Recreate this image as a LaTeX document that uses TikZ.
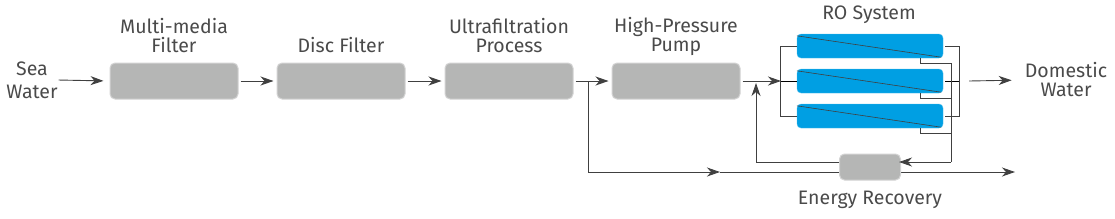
\documentclass[tikz,border=0pt]{standalone}
\usepackage{fontspec}
\setmainfont{Fira Sans}
\usepackage{xcolor}
\usetikzlibrary{arrows.meta, positioning}
\definecolor{boxgray}{HTML}{B5B6B5}
\definecolor{roblue}{HTML}{009FE3}
\definecolor{linegray}{HTML}{404040}
\definecolor{txtgray}{HTML}{4A4A4A}

\begin{document}
\begin{tikzpicture}[x=1pt, y=-1pt, >={Stealth[length=13pt, width=9pt, inset=4pt]},
    proc/.style={draw=boxgray!60!white, fill=boxgray, rounded corners=5pt, minimum width=128pt, minimum height=36pt, inner sep=0pt, line width=1pt},
    romod/.style={draw=roblue!70!white, fill=roblue, rounded corners=4pt, minimum width=146pt, minimum height=24pt, inner sep=0pt},
    flow/.style={draw=linegray, line width=0.9pt},
    lbl/.style={text=txtgray, font=\fontsize{19.5}{19}\selectfont, align=center, inner sep=0pt}]
    \useasboundingbox (0,0) rectangle (1115,218);

    % 1. Process boxes along the main line
    \node[proc] (mmf) at (174,81) {};
    \node[proc] (disc) at (341,81) {};
    \node[proc] (uf) at (509,81) {};
    \node[proc] (hpp) at (676,81) {};

    % RO modules
    \foreach \i/\y in {1/46, 2/81, 3/116} {
        \node[romod] (ro\i) at (870,\y) {};
        \draw[linegray, line width=0.6pt] ([yshift=-2pt]ro\i.north west) -- ([xshift=-2pt, yshift=1pt]ro\i.south east);
    }

    % Texts
    \node[lbl, font=\fontsize{19.5}{23}\selectfont] (sea) at (32,80) {Sea\\Water};
    \node[lbl] (lmmf) at (174,36) {Multi-media\\Filter};
    \node[lbl] (ldisc) at (341,45) {Disc Filter};
    \node[lbl] (luf) at (509,36) {Ultrafiltration\\Process};
    \node[lbl] (lhpp) at (676,36) {High-Pressure\\Pump};
    \node[lbl] (lro) at (869,15) {RO System};
    \node[lbl] (dom) at (1066,80) {Domestic\\Water};
    \node[lbl] (lerd) at (870,200) {Energy Recovery};

    % Junction points
    \coordinate (split) at (588,81);
    \coordinate (inL) at (781,81);
    \coordinate (outR) at (969,81);
    \coordinate (brine) at (951,162);
    \coordinate (retUp) at (756,81);
    \coordinate (midArr) at (720,172);
    \coordinate (drain) at (1015,172);

    % Bypass line, behind the energy recovery box
    \draw[flow, ->] (split) |- (midArr);
    \draw[flow, ->] (midArr) -- (drain);
    \node[proc, minimum width=61pt, minimum height=26pt] (erd) at (870,167) {};

    % 2. Main flow
    \draw[flow, ->, shorten <=1pt, shorten >=6pt] (sea.east) -- (mmf.west);
    \draw[flow, ->, shorten <=2pt, shorten >=3pt] (mmf) -- (disc);
    \draw[flow, ->, shorten <=2pt, shorten >=3pt] (disc) -- (uf);
    \draw[flow, ->, shorten <=2pt, shorten >=3pt] (uf) -- (hpp);
    \draw[flow, ->, shorten <=2pt] (hpp) -- (inL);

    % Feed manifold
    \draw[flow] (ro1.west) -- ++(-16,0) |- (ro3.west);
    \draw[black, line width=1pt] (inL) -- (ro2.west);

    % Permeate manifold
    \draw[flow] ([xshift=2pt]ro1.east) -- ++(14,0) |- ([xshift=2pt]ro3.east);
    \draw[black, line width=1pt] ([xshift=2pt]ro2.east) -- ++(14,0);
    \draw[flow, ->, shorten >=13pt] (outR) -- (dom.west);

    % Brine to energy recovery and back
    \foreach \i in {1,2,3}
        \draw[flow] ([xshift=-23pt]ro\i.south east) -- ++(0,5) -| (brine);
    \draw[flow, ->, shorten >=-2pt] (brine) -- (erd.east |- brine);
    \draw[flow, ->] (erd.west |- brine) -| ([yshift=-2pt]retUp);
\end{tikzpicture}
\end{document}
